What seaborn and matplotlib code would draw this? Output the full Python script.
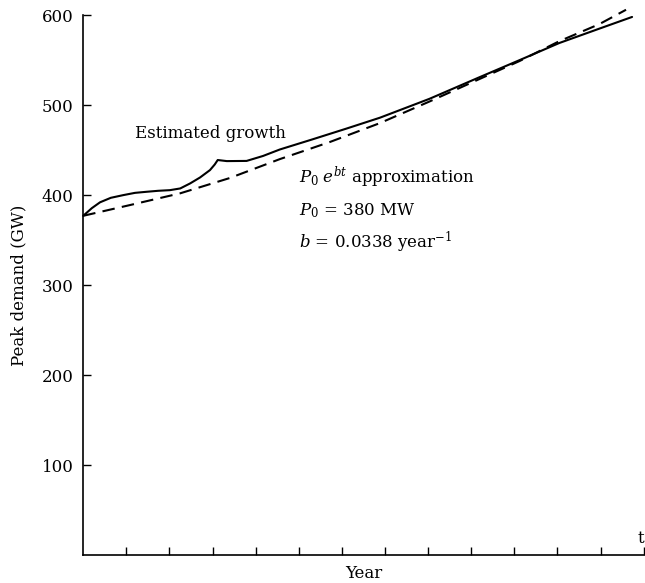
import pandas as pd
import numpy as np
import matplotlib
matplotlib.use("Agg")
import matplotlib.pyplot as plt
import seaborn as sns

# years from start (one tick per year), values in GW
est_year = [0.0, 0.2, 0.39, 0.64, 0.93, 1.2, 1.47, 1.74, 2.01, 2.25, 2.48,
            2.71, 2.94, 3.05, 3.12, 3.33, 3.79, 4.17, 4.56, 5.32, 6.11, 6.88,
            8.03, 9.19, 10.12, 11.04, 11.97, 12.73]
est_demand = [377, 385.5, 392, 397, 400, 402.5, 403.7, 404.8, 405.5, 407.4, 413,
              419.6, 427.8, 434, 439, 437.8, 438, 443.5, 450.7, 462, 474, 486,
              507, 531, 550, 569, 585, 598]

approx_year = [0.0, 1.09, 2.25, 3.40, 4.56, 5.72, 6.88, 8.03, 9.19, 10.12,
               11.04, 11.97, 12.59]
approx_demand = [377, 389, 402, 419, 440, 459, 480, 504, 529, 549, 571, 590, 606]

y_ticks = [100, 200, 300, 400, 500, 600]
x_ticks = list(range(1, 14))

est = pd.DataFrame({"Year": est_year, "Demand": est_demand})
approx = pd.DataFrame({"Year": approx_year, "Demand": approx_demand})

sns.set_style("ticks")
plt.rcParams["font.family"] = ["DejaVu Serif"]
plt.rcParams["mathtext.fontset"] = "dejavuserif"
plt.rcParams["text.color"] = "black"
plt.rcParams["axes.labelcolor"] = "black"

fig = plt.figure(figsize=(6.45, 5.83), dpi=100)
ax = fig.add_axes([0.129, 0.048, 0.869, 0.926])

sns.lineplot(data=est, x="Year", y="Demand", ax=ax, color="black",
             linewidth=1.5, clip_on=False, sort=False)
sns.lineplot(data=approx, x="Year", y="Demand", ax=ax, color="black",
             linewidth=1.5, clip_on=False, sort=False)
ax.lines[1].set_dashes([6, 3.5])

ax.set_xlim(0, 13)
ax.set_ylim(0, 600)
ax.set_xticks(x_ticks)
ax.set_xticklabels([])
ax.set_yticks(y_ticks)
ax.tick_params(direction="in", length=6, width=1, labelsize=12, colors="black")
ax.tick_params(axis="y", pad=7)
for s in ["top", "right"]:
    ax.spines[s].set_visible(False)
for s in ["left", "bottom"]:
    ax.spines[s].set_linewidth(1.2)
    ax.spines[s].set_color("black")

ax.set_xlabel("Year", fontsize=12, labelpad=4)
ax.set_ylabel("Peak demand (GW)", fontsize=12)
ax.yaxis.set_label_coords(-0.10, 0.5)

ax.text(1.2, 464, "Estimated growth", fontsize=12, va="baseline")
ax.text(5.0, 413, r"$P_0\;e^{bt}$ approximation", fontsize=12, va="baseline")
ax.text(5.0, 378, r"$P_0$ = 380 MW", fontsize=12, va="baseline")
ax.text(5.0, 341, r"$b$ = 0.0338 year$^{-1}$", fontsize=12, va="baseline")
ax.text(12.93, 13, "t", fontsize=12, va="baseline", ha="center", clip_on=False)

fig.savefig("out.png", dpi=100)
